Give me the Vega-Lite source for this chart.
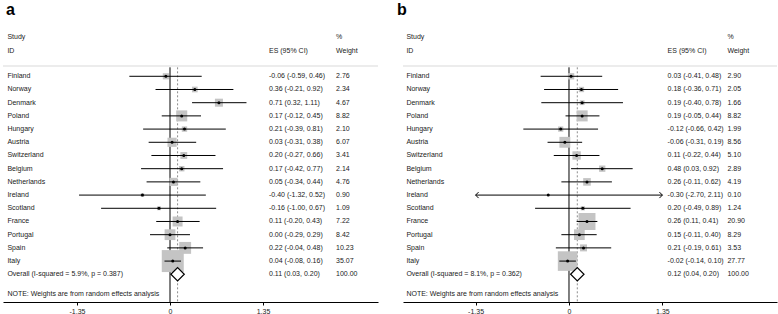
{
  "$schema": "https://vega.github.io/schema/vega-lite/v6.json",
  "padding": {"left": 2, "right": 1, "top": 0, "bottom": 0},
  "background": "white",
  "bounds": "flush",
  "spacing": 25,
  "config": {
    "locale": {"number": {"decimal": ".", "thousands": ",", "grouping": [3], "currency": ["$", ""], "minus": "-"}},
    "view": {"stroke": null},
    "font": "Liberation Sans",
    "text": {"font": "Liberation Sans", "fontSize": 7, "fill": "#222", "align": "left", "baseline": "middle"},
    "axis": {"grid": false, "domainColor": "#000", "domainWidth": 1, "tickColor": "#000", "tickSize": 3, "labelFontSize": 7, "labelColor": "#222", "labelPadding": 2, "labelFont": "Liberation Sans"}
  },
  "datasets": {
    "a": [
      {"study": "Finland", "es": -0.06, "lo": -0.59, "hi": 0.46, "weight": 2.76},
      {"study": "Norway", "es": 0.36, "lo": -0.21, "hi": 0.92, "weight": 2.34},
      {"study": "Denmark", "es": 0.71, "lo": 0.32, "hi": 1.11, "weight": 4.67},
      {"study": "Poland", "es": 0.17, "lo": -0.12, "hi": 0.45, "weight": 8.82},
      {"study": "Hungary", "es": 0.21, "lo": -0.39, "hi": 0.81, "weight": 2.10},
      {"study": "Austria", "es": 0.03, "lo": -0.31, "hi": 0.38, "weight": 6.07},
      {"study": "Switzerland", "es": 0.20, "lo": -0.27, "hi": 0.66, "weight": 3.41},
      {"study": "Belgium", "es": 0.17, "lo": -0.42, "hi": 0.77, "weight": 2.14},
      {"study": "Netherlands", "es": 0.05, "lo": -0.34, "hi": 0.44, "weight": 4.76},
      {"study": "Ireland", "es": -0.40, "lo": -1.32, "hi": 0.52, "weight": 0.90},
      {"study": "Scotland", "es": -0.16, "lo": -1.00, "hi": 0.67, "weight": 1.09},
      {"study": "France", "es": 0.11, "lo": -0.20, "hi": 0.43, "weight": 7.22},
      {"study": "Portugal", "es": 0.00, "lo": -0.29, "hi": 0.29, "weight": 8.42},
      {"study": "Spain", "es": 0.22, "lo": -0.04, "hi": 0.48, "weight": 10.23},
      {"study": "Italy", "es": 0.04, "lo": -0.08, "hi": 0.16, "weight": 35.07},
      {"study": "Overall  (I-squared = 5.9%, p = 0.387)", "es": 0.11, "lo": 0.03, "hi": 0.20, "weight": 100.00}
    ],
    "b": [
      {"study": "Finland", "es": 0.03, "lo": -0.41, "hi": 0.48, "weight": 2.90},
      {"study": "Norway", "es": 0.18, "lo": -0.36, "hi": 0.71, "weight": 2.05},
      {"study": "Denmark", "es": 0.19, "lo": -0.40, "hi": 0.78, "weight": 1.66},
      {"study": "Poland", "es": 0.19, "lo": -0.05, "hi": 0.44, "weight": 8.82},
      {"study": "Hungary", "es": -0.12, "lo": -0.66, "hi": 0.42, "weight": 1.99},
      {"study": "Austria", "es": -0.06, "lo": -0.31, "hi": 0.19, "weight": 8.56},
      {"study": "Switzerland", "es": 0.11, "lo": -0.22, "hi": 0.44, "weight": 5.10},
      {"study": "Belgium", "es": 0.48, "lo": 0.03, "hi": 0.92, "weight": 2.89},
      {"study": "Netherlands", "es": 0.26, "lo": -0.11, "hi": 0.62, "weight": 4.19},
      {"study": "Ireland", "es": -0.30, "lo": -2.70, "hi": 2.11, "weight": 0.10},
      {"study": "Scotland", "es": 0.20, "lo": -0.49, "hi": 0.89, "weight": 1.24},
      {"study": "France", "es": 0.26, "lo": 0.11, "hi": 0.41, "weight": 20.90},
      {"study": "Portugal", "es": 0.15, "lo": -0.11, "hi": 0.40, "weight": 8.29},
      {"study": "Spain", "es": 0.21, "lo": -0.19, "hi": 0.61, "weight": 3.53},
      {"study": "Italy", "es": -0.02, "lo": -0.14, "hi": 0.10, "weight": 27.77},
      {"study": "Overall  (I-squared = 8.1%, p = 0.362)", "es": 0.12, "lo": 0.04, "hi": 0.20, "weight": 100.00}
    ]
  },
  "hconcat": [
    {
      "width": 375,
      "height": 302,
      "layer": [
        {"data": {"values": [{}]}, "mark": {"type": "rule", "color": "#d9d9d9", "strokeWidth": 1.2},
         "encoding": {"x": {"datum": -2.424, "type": "quantitative", "scale": {"domain": [-2.424, 3.019], "nice": false, "zero": false}}, "x2": {"datum": 3.019},
                      "y": {"datum": 0.22, "type": "quantitative", "scale": {"domain": [-4.78, 18.1], "reverse": true, "nice": false, "zero": false}, "axis": null}}},
        {"data": {"values": [{}]}, "mark": {"type": "rule", "color": "#000", "strokeWidth": 1},
         "encoding": {"x": {"datum": 0, "type": "quantitative", "scale": {"domain": [-2.424, 3.019], "nice": false, "zero": false}},
                      "y": {"datum": 0.32, "type": "quantitative", "scale": {"domain": [-4.78, 18.1], "reverse": true, "nice": false, "zero": false}, "axis": null}, "y2": {"datum": 18.1}}},
        {"data": {"values": [{}]}, "mark": {"type": "text", "text": "a", "fontSize": 16, "fontWeight": "bold", "fill": "#000", "baseline": "alphabetic"},
         "encoding": {"x": {"datum": -2.38, "type": "quantitative"}, "y": {"datum": -3.64, "type": "quantitative"}}},
        {"data": {"values": [{}]}, "mark": {"type": "text", "text": "Study"},
         "encoding": {"x": {"datum": -2.36, "type": "quantitative"}, "y": {"datum": -1.97, "type": "quantitative"}}},
        {"data": {"values": [{}]}, "mark": {"type": "text", "text": "ID"},
         "encoding": {"x": {"datum": -2.36, "type": "quantitative"}, "y": {"datum": -0.9, "type": "quantitative"}}},
        {"data": {"values": [{}]}, "mark": {"type": "text", "text": "ES (95% CI)"},
         "encoding": {"x": {"datum": 1.437, "type": "quantitative"}, "y": {"datum": -0.9, "type": "quantitative"}}},
        {"data": {"values": [{}]}, "mark": {"type": "text", "text": "%"},
         "encoding": {"x": {"datum": 2.41, "type": "quantitative"}, "y": {"datum": -1.97, "type": "quantitative"}}},
        {"data": {"values": [{}]}, "mark": {"type": "text", "text": "Weight"},
         "encoding": {"x": {"datum": 2.41, "type": "quantitative"}, "y": {"datum": -0.9, "type": "quantitative"}}},
        {"data": {"values": [{}]}, "mark": {"type": "text", "text": "NOTE: Weights are from random effects analysis"},
         "encoding": {"x": {"datum": -2.36, "type": "quantitative"}, "y": {"datum": 17.53, "type": "quantitative"}}},
        {
          "data": {"name": "a"},
          "transform": [
            {"window": [{"op": "row_number", "as": "row"}]},
            {"calculate": "indexof(datum.study, 'Overall') == 0", "as": "overall"},
            {"calculate": "max(datum.lo, -1.35)", "as": "lo_c"},
            {"calculate": "min(datum.hi, 1.35)", "as": "hi_c"},
            {"calculate": "format(datum.es, '.2f') + ' (' + format(datum.lo, '.2f') + ', ' + format(datum.hi, '.2f') + ')'", "as": "es_txt"},
            {"calculate": "format(datum.weight, '.2f')", "as": "w_txt"}
          ],
          "layer": [
            {"transform": [{"filter": "datum.overall"}], "mark": {"type": "rule", "color": "#8c8c8c", "strokeDash": [2, 2], "strokeWidth": 1},
             "encoding": {"x": {"field": "es", "type": "quantitative", "title": null}, "y": {"datum": 0.32, "type": "quantitative"}, "y2": {"datum": 18.1}}},
            {"transform": [{"filter": "!datum.overall"}], "mark": {"type": "point", "shape": "square", "filled": true, "color": "#c4c4c4", "opacity": 1},
             "encoding": {"x": {"field": "es", "type": "quantitative", "title": null}, "y": {"field": "row", "type": "quantitative"},
                          "size": {"field": "weight", "type": "quantitative", "scale": {"type": "linear", "domain": [0, 100], "range": [0, 1380]}, "legend": null}}},
            {"transform": [{"filter": "!datum.overall"}], "mark": {"type": "rule", "color": "#000", "strokeWidth": 1},
             "encoding": {"x": {"field": "lo_c", "type": "quantitative", "title": null, "axis": {"values": [-1.35, 0, 1.35], "labelExpr": "datum.value == 0 ? '0' : format(datum.value, '.2f')", "title": null}},
                          "x2": {"field": "hi_c"}, "y": {"field": "row", "type": "quantitative"}}},
            {"transform": [{"filter": "!datum.overall"}], "mark": {"type": "point", "shape": "circle", "filled": true, "color": "#000", "opacity": 1, "size": 9},
             "encoding": {"x": {"field": "es", "type": "quantitative", "title": null}, "y": {"field": "row", "type": "quantitative"}}},
            {"transform": [{"filter": "datum.overall"}], "mark": {"type": "point", "shape": "diamond", "filled": true, "fill": "#fff", "stroke": "#000", "strokeWidth": 1.2, "opacity": 1, "size": 180},
             "encoding": {"x": {"field": "es", "type": "quantitative", "title": null}, "y": {"field": "row", "type": "quantitative"}}},
            {"mark": {"type": "text"},
             "encoding": {"x": {"datum": -2.36, "type": "quantitative"}, "y": {"field": "row", "type": "quantitative"}, "text": {"field": "study"}}},
            {"mark": {"type": "text"},
             "encoding": {"x": {"datum": 1.437, "type": "quantitative"}, "y": {"field": "row", "type": "quantitative"}, "text": {"field": "es_txt"}}},
            {"mark": {"type": "text"},
             "encoding": {"x": {"datum": 2.41, "type": "quantitative"}, "y": {"field": "row", "type": "quantitative"}, "text": {"field": "w_txt"}}}
          ]
        }
      ]
    },
    {
      "width": 374,
      "height": 302,
      "layer": [
        {"data": {"values": [{}]}, "mark": {"type": "rule", "color": "#d9d9d9", "strokeWidth": 1.2},
         "encoding": {"x": {"datum": -2.399, "type": "quantitative", "scale": {"domain": [-2.399, 3.006], "nice": false, "zero": false}}, "x2": {"datum": 3.006},
                      "y": {"datum": 0.22, "type": "quantitative", "scale": {"domain": [-4.78, 18.1], "reverse": true, "nice": false, "zero": false}, "axis": null}}},
        {"data": {"values": [{}]}, "mark": {"type": "rule", "color": "#000", "strokeWidth": 1},
         "encoding": {"x": {"datum": 0, "type": "quantitative", "scale": {"domain": [-2.399, 3.006], "nice": false, "zero": false}},
                      "y": {"datum": 0.32, "type": "quantitative", "scale": {"domain": [-4.78, 18.1], "reverse": true, "nice": false, "zero": false}, "axis": null}, "y2": {"datum": 18.1}}},
        {"data": {"values": [{}]}, "mark": {"type": "text", "text": "b", "fontSize": 16, "fontWeight": "bold", "fill": "#000", "baseline": "alphabetic"},
         "encoding": {"x": {"datum": -2.486, "type": "quantitative"}, "y": {"datum": -3.64, "type": "quantitative"}}},
        {"data": {"values": [{}]}, "mark": {"type": "text", "text": "Study"},
         "encoding": {"x": {"datum": -2.35, "type": "quantitative"}, "y": {"datum": -1.97, "type": "quantitative"}}},
        {"data": {"values": [{}]}, "mark": {"type": "text", "text": "ID"},
         "encoding": {"x": {"datum": -2.35, "type": "quantitative"}, "y": {"datum": -0.9, "type": "quantitative"}}},
        {"data": {"values": [{}]}, "mark": {"type": "text", "text": "ES (95% CI)"},
         "encoding": {"x": {"datum": 1.425, "type": "quantitative"}, "y": {"datum": -0.9, "type": "quantitative"}}},
        {"data": {"values": [{}]}, "mark": {"type": "text", "text": "%"},
         "encoding": {"x": {"datum": 2.29, "type": "quantitative"}, "y": {"datum": -1.97, "type": "quantitative"}}},
        {"data": {"values": [{}]}, "mark": {"type": "text", "text": "Weight"},
         "encoding": {"x": {"datum": 2.29, "type": "quantitative"}, "y": {"datum": -0.9, "type": "quantitative"}}},
        {"data": {"values": [{}]}, "mark": {"type": "text", "text": "NOTE: Weights are from random effects analysis"},
         "encoding": {"x": {"datum": -2.35, "type": "quantitative"}, "y": {"datum": 17.53, "type": "quantitative"}}},
        {
          "data": {"name": "b"},
          "transform": [
            {"window": [{"op": "row_number", "as": "row"}]},
            {"calculate": "indexof(datum.study, 'Overall') == 0", "as": "overall"},
            {"calculate": "max(datum.lo, -1.35)", "as": "lo_c"},
            {"calculate": "min(datum.hi, 1.35)", "as": "hi_c"},
            {"calculate": "format(datum.es, '.2f') + ' (' + format(datum.lo, '.2f') + ', ' + format(datum.hi, '.2f') + ')'", "as": "es_txt"},
            {"calculate": "format(datum.weight, '.2f')", "as": "w_txt"}
          ],
          "layer": [
            {"transform": [{"filter": "datum.overall"}], "mark": {"type": "rule", "color": "#8c8c8c", "strokeDash": [2, 2], "strokeWidth": 1},
             "encoding": {"x": {"field": "es", "type": "quantitative", "title": null}, "y": {"datum": 0.32, "type": "quantitative"}, "y2": {"datum": 18.1}}},
            {"transform": [{"filter": "!datum.overall"}], "mark": {"type": "point", "shape": "square", "filled": true, "color": "#c4c4c4", "opacity": 1},
             "encoding": {"x": {"field": "es", "type": "quantitative", "title": null}, "y": {"field": "row", "type": "quantitative"},
                          "size": {"field": "weight", "type": "quantitative", "scale": {"type": "linear", "domain": [0, 100], "range": [0, 1955]}, "legend": null}}},
            {"transform": [{"filter": "!datum.overall"}], "mark": {"type": "rule", "color": "#000", "strokeWidth": 1},
             "encoding": {"x": {"field": "lo_c", "type": "quantitative", "title": null, "axis": {"values": [-1.35, 0, 1.35], "labelExpr": "datum.value == 0 ? '0' : format(datum.value, '.2f')", "title": null}},
                          "x2": {"field": "hi_c"}, "y": {"field": "row", "type": "quantitative"}}},
            {"transform": [{"filter": "!datum.overall"}], "mark": {"type": "point", "shape": "circle", "filled": true, "color": "#000", "opacity": 1, "size": 9},
             "encoding": {"x": {"field": "es", "type": "quantitative", "title": null}, "y": {"field": "row", "type": "quantitative"}}},
            {"transform": [{"filter": "datum.lo < -1.35"}], "mark": {"type": "point", "shape": "M1,-1L0,0L1,1", "filled": false, "stroke": "#000", "strokeWidth": 1, "opacity": 1, "size": 36},
             "encoding": {"x": {"field": "lo_c", "type": "quantitative", "title": null}, "y": {"field": "row", "type": "quantitative"}}},
            {"transform": [{"filter": "datum.hi > 1.35"}], "mark": {"type": "point", "shape": "M-1,-1L0,0L-1,1", "filled": false, "stroke": "#000", "strokeWidth": 1, "opacity": 1, "size": 36},
             "encoding": {"x": {"field": "hi_c", "type": "quantitative", "title": null}, "y": {"field": "row", "type": "quantitative"}}},
            {"transform": [{"filter": "datum.overall"}], "mark": {"type": "point", "shape": "diamond", "filled": true, "fill": "#fff", "stroke": "#000", "strokeWidth": 1.2, "opacity": 1, "size": 180},
             "encoding": {"x": {"field": "es", "type": "quantitative", "title": null}, "y": {"field": "row", "type": "quantitative"}}},
            {"mark": {"type": "text"},
             "encoding": {"x": {"datum": -2.35, "type": "quantitative"}, "y": {"field": "row", "type": "quantitative"}, "text": {"field": "study"}}},
            {"mark": {"type": "text"},
             "encoding": {"x": {"datum": 1.425, "type": "quantitative"}, "y": {"field": "row", "type": "quantitative"}, "text": {"field": "es_txt"}}},
            {"mark": {"type": "text"},
             "encoding": {"x": {"datum": 2.29, "type": "quantitative"}, "y": {"field": "row", "type": "quantitative"}, "text": {"field": "w_txt"}}}
          ]
        }
      ]
    }
  ]
}
